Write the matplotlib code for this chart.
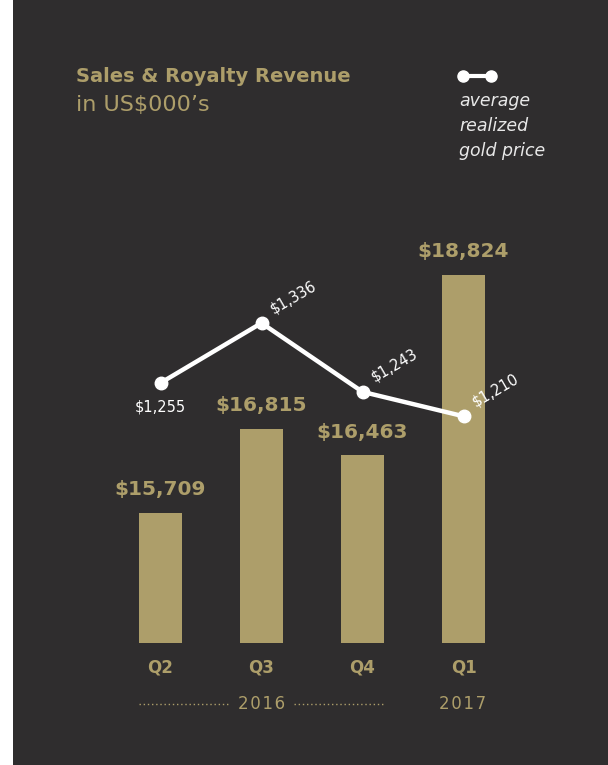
import numpy as np
import matplotlib.pyplot as plt
from matplotlib.patches import Rectangle
from matplotlib.lines import Line2D

# data
quarters = ['Q2', 'Q3', 'Q4', 'Q1']
revenue = [15709, 16815, 16463, 18824]
gold_price = [1255, 1336, 1243, 1210]
years = ['2016', '2017']

bg = '#2f2d2e'
gold = '#ad9e6a'
W, H = 608, 765

fig = plt.figure(figsize=(W / 100, H / 100), dpi=100)
fig.patch.set_facecolor(bg)
# white strip on the left edge
fig.patches.append(Rectangle((0, 0), 13 / W, 1, transform=fig.transFigure,
                             facecolor='white', edgecolor='none', zorder=-1))

def px(x, y):
    return x / W, 1 - y / H

# axes placed in pixel space
left, right, top, bottom = 110, 514, 230, 643
ax = fig.add_axes([left / W, 1 - bottom / H, (right - left) / W, (bottom - top) / H])
ax.set_facecolor('none')
x = np.arange(len(quarters))
ax.bar(x, revenue, width=0.426, color=gold, zorder=2)
ax.set_xlim(-0.5, 3.5)
ax.set_ylim(14008, 19414)
for xi, v in zip(x, revenue):
    ax.annotate(f'${v:,}', (xi, v), xytext=(0, 10), textcoords='offset points',
                ha='center', va='bottom', color=gold, fontsize=14.5, fontweight='bold')
ax.set_xticks(x)
ax.set_xticklabels(quarters, color=gold, fontsize=12, fontweight='bold')
ax.tick_params(axis='x', length=0, pad=11)
ax.set_yticks([])
for s in ax.spines.values():
    s.set_visible(False)

ax2 = ax.twinx()
ax2.set_ylim(903.6, 1461.7)
ax2.plot(x, gold_price, color='white', lw=3.2, marker='o', markersize=9, zorder=3,
         solid_capstyle='round')
ax2.set_yticks([])
for s in ax2.spines.values():
    s.set_visible(False)

ax2.annotate(f'${gold_price[0]:,}', (x[0], gold_price[0]), xytext=(0, -12),
             textcoords='offset points', ha='center', va='top', color='white', fontsize=10.5)
for xi, v in zip(x[1:], gold_price[1:]):
    ax2.annotate(f'${v:,}', (xi, v), xytext=(10, 5), textcoords='offset points',
                 ha='left', va='bottom', color='white', fontsize=10.5, rotation=30,
                 rotation_mode='anchor')

# title
fig.text(*px(76, 76), 'Sales & Royalty Revenue', color=gold, fontsize=14,
         fontweight='bold', va='center', ha='left')
fig.text(*px(76, 105), 'in US$000\u2019s', color=gold, fontsize=16,
         va='center', ha='left')

# legend
fig.lines.append(Line2D([463 / W, 491 / W], [1 - 76 / H] * 2, transform=fig.transFigure,
                        color='white', lw=3, marker='o', markersize=8))
for i, t in enumerate(['average', 'realized', 'gold price']):
    fig.text(*px(459, 101 + 25 * i), t, color='#e8e8e8', fontsize=12.5,
             style='italic', va='center', ha='left')

# years
spaced = lambda s: '\u200a'.join(s)
fig.text(*px(262, 704), spaced(years[0]), color=gold, fontsize=12, ha='center', va='center')
fig.text(*px(463, 704), spaced(years[1]), color=gold, fontsize=12, ha='center', va='center')
for x0, x1 in [(139, 229), (294, 383)]:
    fig.lines.append(Line2D([x0 / W, x1 / W], [1 - 704 / H] * 2, transform=fig.transFigure,
                            color=gold, lw=1, linestyle=(0, (1, 2))))

fig.savefig('out.png', dpi=100, facecolor=fig.get_facecolor())
